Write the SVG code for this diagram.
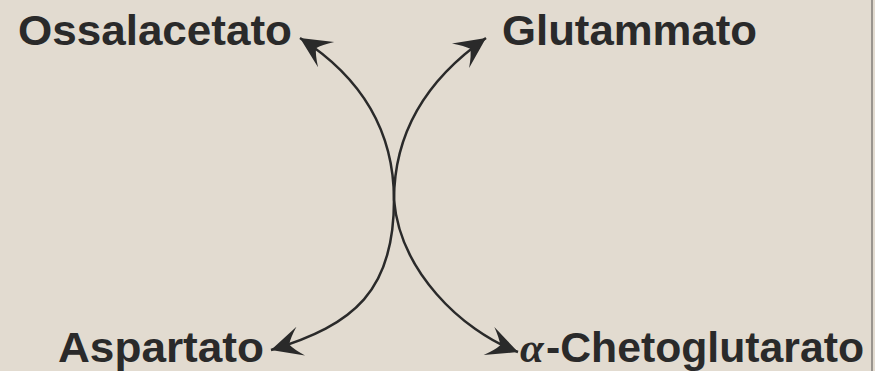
<svg xmlns="http://www.w3.org/2000/svg" width="875" height="371" viewBox="0 0 875 371">
<style>
.lbl{font-family:"Liberation Sans",Arial,sans-serif;font-weight:bold;font-size:43px;fill:#2a2a2a}
.alpha{font-family:"Liberation Serif","Times New Roman",serif;font-weight:bold;font-style:italic;font-size:43px;fill:#2a2a2a}
.conn{fill:none;stroke:#2a2a2a;stroke-width:2.5}
</style>
<defs>
<marker id="ah" markerUnits="userSpaceOnUse" markerWidth="44" markerHeight="44" viewBox="-34 -22 44 44" refX="0" refY="0" orient="auto-start-reverse">
<path d="M0,0 L-31,-15 Q-22,-6 -19,0 Q-22,6 -31,15 Z" fill="#2a2a2a"/>
</marker>
</defs>
<rect x="0" y="0" width="875" height="371" fill="#e2dbd0"/>
<line x1="872" y1="0" x2="872" y2="371" stroke="#9a958f" stroke-width="2"/>
<g id="connectors">
<path class="conn" d="M300,38 C350,70 394,120 394,200 C394,290 355,325 271,350" marker-start="url(#ah)" marker-end="url(#ah)"/>
<path class="conn" d="M486,38 C440,70 394,120 394,200 C400,270 460,330 518,352" marker-start="url(#ah)" marker-end="url(#ah)"/>
</g>
<g id="ossalacetato"><text class="lbl" x="18" y="45" textLength="274" lengthAdjust="spacingAndGlyphs">Ossalacetato</text></g>
<g id="glutammato"><text class="lbl" x="502" y="45" textLength="255" lengthAdjust="spacingAndGlyphs">Glutammato</text></g>
<g id="aspartato"><text class="lbl" x="58" y="362" textLength="206" lengthAdjust="spacingAndGlyphs">Aspartato</text></g>
<g id="chetoglutarato"><text class="alpha" x="520" y="362">α</text><text class="lbl" x="546" y="362" textLength="318" lengthAdjust="spacingAndGlyphs">-Chetoglutarato</text></g>
</svg>
